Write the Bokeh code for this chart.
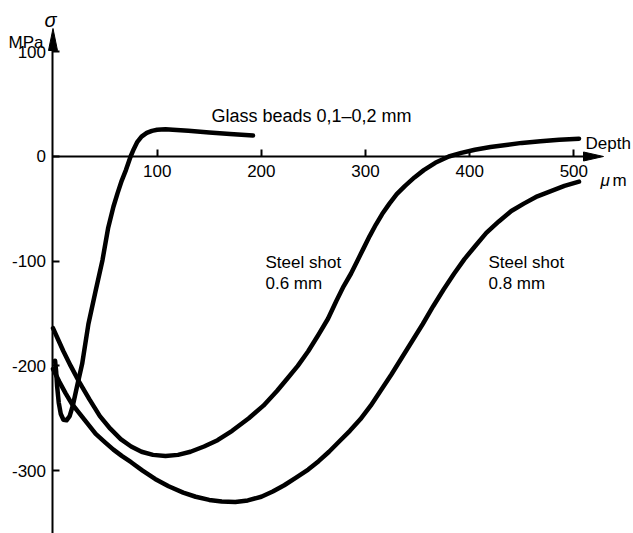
from bokeh.plotting import figure
from bokeh.models import Range1d, FixedTicker, LinearAxis
from bokeh.core.properties import value
from bokeh.embed import file_html
from bokeh.resources import INLINE

# ---- data (depth in micrometres, residual stress in MPa) ----
glass_depth = [2, 3, 4, 5.5, 7.5, 10, 13, 16, 19, 23, 28, 34, 41, 47.5, 53, 58, 62, 66, 70, 74.5,
               77.5, 81, 85, 90, 95, 100, 108, 115, 130, 150, 170, 192]
glass_stress = [-195, -205, -220, -235, -246, -251.5, -252, -248, -238, -220, -198, -160, -128, -99, -68, -48,
                -35, -23, -13, 0, 7, 14, 19, 22.5, 24.5, 25.5, 26, 25.5, 24.5, 23, 21.5, 20]

shot06_depth = [0, 5, 10, 17, 25, 35, 45, 55, 65, 75, 85, 96, 108, 120, 132, 145, 158, 172, 188, 202,
                215, 225, 235, 245, 255, 264, 272, 279, 286, 292, 298, 304, 310, 316, 323, 330, 338, 347,
                356, 367, 380, 392, 405, 420, 435, 450, 468, 486, 505]
shot06_stress = [-164, -175, -186, -200, -215, -232, -248, -260, -270, -277, -282, -285, -286, -285, -282,
                 -277, -271, -262, -250, -238, -224, -212, -200, -186, -170, -155, -138, -124, -112, -100,
                 -88, -76, -65, -55, -45, -36, -28, -20, -13, -6, 0, 3.5, 6.5, 9, 11, 13, 14.5, 16, 17]

shot08_depth = [0, 6, 12, 18, 25, 33, 41, 50, 58, 66, 75, 86, 98, 111, 125, 137, 150, 162, 175, 187, 200,
                211, 222, 233, 245, 255, 265, 275, 285, 295, 305, 315, 325, 335, 345, 355, 365, 375, 385,
                395, 405, 416, 428, 440, 452, 465, 478, 491, 505]
shot08_stress = [-203, -215, -226, -236, -245, -255, -265, -273, -280, -286, -292, -300, -308, -315, -321,
                 -325, -328, -329.5, -330, -328.5, -325, -320, -314, -307, -299, -291, -282, -272, -262,
                 -251, -238, -223, -208, -192, -176, -160, -143, -127, -112, -98, -86, -73, -62, -52, -45,
                 -38, -33, -28, -24]

x_ticks = [100, 200, 300, 400, 500]
y_ticks = [-300, -200, -100, 0, 100]

# ---- layout ----
W, H = 633, 533
X0, X1 = -50.4, 557.3
Y0, Y1 = -360.1, 149.0
PX = W / (X1 - X0)   # pixels per micrometre
PY = H / (Y1 - Y0)   # pixels per MPa
FONT = "Liberation Sans"


def dx(px):  # page pixel -> data x
    return X0 + px / PX


def dy(py):  # page pixel -> data y
    return Y1 - py / PY


p = figure(width=W, height=H, x_range=Range1d(X0, X1), y_range=Range1d(Y0, Y1),
           output_backend="svg", toolbar_location=None, min_border=0,
           x_axis_location=None, y_axis_location=None)
p.outline_line_color = None
p.xgrid.visible = False
p.ygrid.visible = False
p.background_fill_color = "white"
p.border_fill_color = "white"

x_arrow_base, x_arrow_tip = dx(583), dx(603)
y_arrow_base, y_arrow_tip = dy(50), dy(28)

xaxis = LinearAxis(fixed_location=0, ticker=FixedTicker(ticks=x_ticks), bounds=(0, x_arrow_base))
yaxis = LinearAxis(fixed_location=0, ticker=FixedTicker(ticks=y_ticks), bounds=(Y0 - 20, y_arrow_base))
yaxis.major_label_overrides = {t: str(t) for t in y_ticks}
for ax, stand in ((xaxis, 9), (yaxis, 7)):
    ax.axis_line_color = "black"
    ax.axis_line_width = 2
    ax.major_tick_in = 7
    ax.major_tick_out = 0
    ax.major_tick_line_color = "black"
    ax.major_tick_line_width = 2
    ax.minor_tick_line_color = None
    ax.major_label_text_font = FONT
    ax.major_label_text_font_size = "17px"
    ax.major_label_text_color = "black"
    ax.major_label_standoff = stand
p.add_layout(xaxis, "below")
p.add_layout(yaxis, "left")

# arrow heads of the axes
hw = 4.5
p.patch([x_arrow_base, x_arrow_tip, x_arrow_base], [hw / PY, 0, -hw / PY], color="black")
p.patch([-hw / PX, 0, hw / PX], [y_arrow_base, y_arrow_tip, y_arrow_base], color="black")

# curves
for xs, ys in ((glass_depth, glass_stress), (shot06_depth, shot06_stress), (shot08_depth, shot08_stress)):
    p.line(xs, ys, line_width=4.5, line_color="black", line_join="round", line_cap="round")


# texts
def txt(xs, ys, texts, size="17px", style="normal", align="left"):
    p.text(x=xs, y=ys, text=texts, text_font=value(FONT), text_font_size=size,
           text_font_style=style, text_color="black", text_baseline="alphabetic", text_align=align)


txt([dx(50)], [dy(19)], ["σ"], size="20px", style="italic", align="center")
txt([dx(8)], [dy(42)], ["MPa"])
txt([dx(211)], [dy(115)], ["Glass beads 0,1–0,2 mm"], size="18px")
txt([dx(265), dx(265), dx(488), dx(488)], [dy(262), dy(283), dy(262), dy(283)],
    ["Steel shot", "0.6 mm", "Steel shot", "0.8 mm"])
txt([dx(585)], [dy(143)], ["Depth"])
txt([dx(600)], [dy(180)], ["μ"], style="italic")
txt([dx(612)], [dy(180)], ["m"])

open("out.html", "w").write(file_html(p, INLINE))
